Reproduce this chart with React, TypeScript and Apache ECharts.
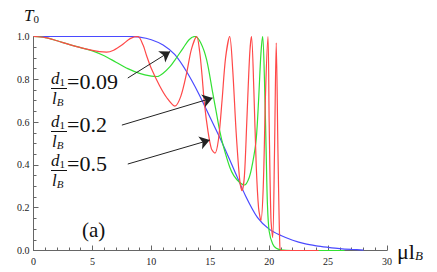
import React, { useEffect, useRef } from 'react';
import * as echarts from 'echarts';

// Series values: [μl_B, T_0]
const blueCurve: [number, number][] = [
  [0, 1], [2, 1], [4, 1], [6, 1], [8, 1], [9, 0.997], [10, 0.985], [11, 0.96], [12, 0.915],
  [13, 0.835], [14, 0.735], [15, 0.62], [16, 0.505], [17, 0.38], [18, 0.255], [19, 0.155],
  [20, 0.1], [21, 0.07], [22, 0.048], [23, 0.032], [24, 0.022], [25, 0.015], [26, 0.009],
  [27, 0.005], [28, 0.002],
];

const greenCurve: [number, number][] = [
  [0, 1], [1, 0.995], [2, 0.98], [3, 0.963], [4, 0.948], [5, 0.933], [6, 0.91], [7, 0.88],
  [8, 0.85], [9, 0.828], [10, 0.815], [10.5, 0.813], [11, 0.828], [11.6, 0.86], [12, 0.89],
  [12.7, 0.946], [13.2, 0.985], [13.7, 1.0], [14.2, 0.97], [14.7, 0.89], [15.2, 0.74],
  [15.5, 0.65], [15.8, 0.56], [16.1, 0.49], [16.65, 0.39], [17, 0.35], [17.5, 0.318],
  [17.9, 0.306], [18.3, 0.34], [18.6, 0.41], [18.9, 0.52], [19.1, 0.7], [19.3, 0.92],
  [19.45, 1.0], [19.6, 0.8], [19.75, 0.45], [19.85, 0.22], [20.0, 0.09], [20.3, 0.03],
  [20.6, 0.01], [21, 0.003], [22, 0], [26.4, 0],
];

const redCurve: [number, number][] = [
  [0, 1], [1, 0.995], [2, 0.98], [3, 0.963], [4, 0.948], [5, 0.935], [5.6, 0.929],
  [6.2, 0.927], [6.8, 0.936], [7.5, 0.96], [8.2, 0.99], [8.85, 1.0], [9.3, 0.96],
  [9.6, 0.91], [10, 0.85], [10.7, 0.77], [11.3, 0.715], [12, 0.675], [12.5, 0.72],
  [13, 0.83], [13.4, 0.94], [13.85, 1.0], [14.1, 0.93], [14.3, 0.82], [14.5, 0.69],
  [14.8, 0.56], [15.1, 0.475], [15.4, 0.455], [15.7, 0.52], [16.0, 0.7], [16.3, 0.9],
  [16.65, 1.0], [16.9, 0.85], [17.2, 0.55], [17.5, 0.33], [17.7, 0.28], [17.9, 0.35],
  [18.1, 0.6], [18.35, 0.92], [18.5, 1.0], [18.7, 0.75], [18.9, 0.4], [19.1, 0.2],
  [19.3, 0.14], [19.5, 0.3], [19.7, 0.75], [19.9, 1.0], [20.0, 0.6], [20.15, 0.15],
  [20.3, 0.06], [20.45, 0.45], [20.6, 0.97], [20.75, 0.45], [20.9, 0.03], [21.0, 0],
  [24.2, 0],
];

// Arrow start / end points in data coordinates
const arrows: [[number, number], [number, number]][] = [
  [[8.0, 0.806], [11.6, 0.93]],
  [[7.5, 0.586], [15.2, 0.713]],
  [[8.0, 0.404], [14.96, 0.516]],
];

const ratioLabels = ['=0.09', '=0.2', '=0.5'];
const xTickValues = [0, 5, 10, 15, 20, 25, 30];
const yTickValues = [0, 0.2, 0.4, 0.6, 0.8, 1.0];

const SERIF = 'Liberation Serif';

export default function App() {
  const ref = useRef<HTMLDivElement>(null);

  useEffect(() => {
    if (!ref.current) return;
    const chart = echarts.init(ref.current, undefined, { renderer: 'svg' });

    const ts = (size: number, italic = false, extra: any = {}) => ({
      fontFamily: SERIF, fontSize: size, fontStyle: italic ? 'italic' : 'normal', fill: '#111', ...extra,
    });

    const labelCenters = [80, 123, 162];
    const graphics: any[] = [];
    labelCenters.forEach((c, i) => {
      graphics.push({
        type: 'text', left: 51, top: c - 10,
        style: {
          text: '{i|d}{s|1}',
          rich: {
            i: ts(17, true),
            s: ts(11, false, { padding: [6, 0, 0, 0] }),
          },
        },
      });
      graphics.push({
        type: 'line',
        shape: { x1: 51, y1: c + 8.5, x2: 67, y2: c + 8.5 },
        style: { stroke: '#111', lineWidth: 1 },
      });
      graphics.push({
        type: 'text', left: 52, top: c + 10,
        style: {
          text: '{i|l}{s|B}',
          rich: {
            i: ts(17, true),
            s: ts(11, true, { padding: [6, 0, 0, 0] }),
          },
        },
      });
      graphics.push({
        type: 'text', x: 67, y: c + 1,
        style: {
          text: ratioLabels[i], ...ts(22), verticalAlign: 'middle', align: 'left',
        },
      });
    });
    graphics.push({
      type: 'text', x: 82, y: 230,
      style: { text: '(a)', ...ts(21), verticalAlign: 'middle' },
    });
    graphics.push({
      type: 'text', left: 24, top: 7,
      style: {
        text: '{i|T}{s|0}',
        rich: {
          i: ts(17, true),
          s: ts(11, false, { padding: [6, 0, 0, 0] }),
        },
      },
    });
    graphics.push({
      type: 'text', left: 397, top: 240,
      style: {
        text: '{m|μl}{s|B}',
        rich: {
          m: ts(22),
          s: ts(13, true, { padding: [8, 0, 0, 0] }),
        },
      },
    });

    const axisCommon = {
      axisLine: { show: true, lineStyle: { color: '#666', width: 1 } },
      axisTick: { show: true, inside: true, length: 5, lineStyle: { color: '#666' } },
      minorTick: { show: true, length: 3, lineStyle: { color: '#666' } },
      splitLine: { show: false },
      axisLabel: { fontFamily: SERIF, fontSize: 10, color: '#222' },
    };

    chart.setOption({
      animation: false,
      grid: { left: 33.5, right: 50, top: 36.5, bottom: 21.5, containLabel: false },
      xAxis: {
        type: 'value', min: 0, max: 30, interval: 5,
        ...axisCommon,
        minorTick: { ...axisCommon.minorTick, splitNumber: 5 },
        axisLabel: {
          ...axisCommon.axisLabel, margin: 6,
          formatter: (v: number) => (xTickValues.includes(v) ? String(v) : ''),
        },
      },
      yAxis: {
        type: 'value', min: 0, max: 1, interval: 0.2,
        ...axisCommon,
        minorTick: { ...axisCommon.minorTick, splitNumber: 4 },
        axisLabel: {
          ...axisCommon.axisLabel, margin: 4,
          formatter: (v: number) => {
            const m = yTickValues.find((t) => Math.abs(t - v) < 1e-6);
            return m === undefined ? '' : m.toFixed(1);
          },
        },
      },
      series: [
        {
          type: 'line', data: blueCurve, showSymbol: false, smooth: 0.3,
          lineStyle: { color: '#4a4aff', width: 1.2 }, silent: true,
        },
        {
          type: 'line', data: greenCurve, showSymbol: false, smooth: 0.3,
          lineStyle: { color: '#33e033', width: 1.2 }, silent: true,
        },
        {
          type: 'line', data: redCurve, showSymbol: false, smooth: 0.3,
          lineStyle: { color: '#ff4848', width: 1.2 }, silent: true,
          markLine: {
            silent: true,
            symbol: ['none', 'arrow'],
            symbolSize: 10,
            label: { show: false },
            lineStyle: { color: '#222', width: 1, type: 'solid' },
            itemStyle: { color: '#222' },
            emphasis: { disabled: true },
            data: arrows.map(([a, b]) => [{ coord: a }, { coord: b }]),
          },
        },
      ],
      graphic: graphics,
    });

    return () => chart.dispose();
  }, []);

  return <div ref={ref} style={{ width: 437, height: 272, position: 'absolute', left: 0, top: 0, background: '#fff' }} />;
}
